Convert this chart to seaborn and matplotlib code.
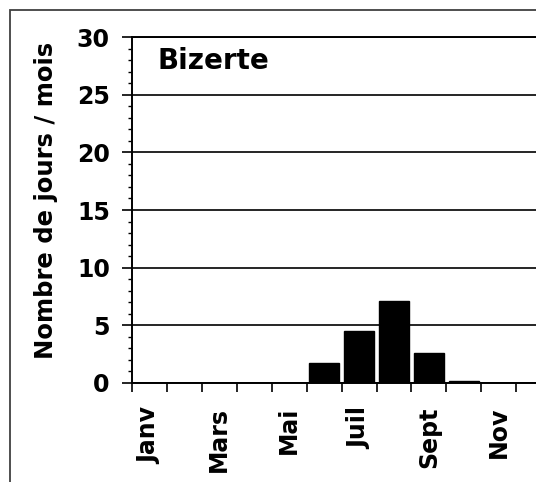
import numpy as np
import matplotlib
matplotlib.use("Agg")
import matplotlib.pyplot as plt
from matplotlib.patches import Rectangle
import seaborn as sns

# Nombre de jours par mois - Bizerte
months = ["Janv", "Fév", "Mars", "Avr", "Mai", "Juin",
          "Juil", "Août", "Sept", "Oct", "Nov", "Déc"]
days = [0, 0, 0, 0, 0, 1.7, 4.5, 7.1, 2.6, 0.2, 0, 0]
shown_labels = ["Janv", "Mars", "Mai", "Juil", "Sept", "Nov"]
station = "Bizerte"
ylabel = "Nombre de jours / mois"


def main():
    sns.set_style("white")
    plt.rcParams["font.family"] = ["DejaVu Sans"]
    plt.rcParams["font.weight"] = "bold"
    plt.rcParams["text.color"] = "black"
    plt.rcParams["axes.labelcolor"] = "black"
    plt.rcParams["xtick.color"] = "black"
    plt.rcParams["ytick.color"] = "black"

    fig = plt.figure(figsize=(5.36, 4.82), dpi=100)
    # the chart is cropped on the right: axes run past the figure edge
    ax = fig.add_axes([0.2463, 0.2054, 0.782, 0.7178])

    sns.barplot(x=months, y=days, color="black", saturation=1, width=0.86,
                edgecolor="black", linewidth=1, ax=ax)

    ax.set_ylim(0, 30)
    ax.set_xlim(-0.5, len(months) - 0.5)

    # y axis
    ax.set_yticks(np.arange(0, 31, 5))
    ax.set_yticks(np.arange(0, 31, 1), minor=True)
    ax.tick_params(axis="y", which="major", direction="out", length=7,
                   width=1.2, colors="black", pad=9, labelsize=17, left=True)
    ax.tick_params(axis="y", which="minor", direction="out", length=3,
                   width=1, colors="black", left=True)
    ax.yaxis.grid(True, which="major", color="black", linewidth=1.2)
    ax.set_axisbelow(True)

    # x axis: ticks at month boundaries, labels every other month
    ax.set_xticks(np.arange(-0.5, len(months), 1))
    ax.set_xticklabels([])
    pos = [months.index(m) for m in shown_labels]
    ax.set_xticks(pos, labels=shown_labels, minor=True)
    ax.tick_params(axis="x", which="major", direction="out", length=6.5,
                   width=1.2, colors="black", bottom=True)
    ax.tick_params(axis="x", which="minor", length=0, pad=17, labelsize=17,
                   labelrotation=90, labelcolor="black", bottom=True)
    for t in ax.get_xticklabels(minor=True):
        t.set_fontweight("bold")
    for t in ax.get_yticklabels():
        t.set_fontweight("bold")

    for side in ["left", "bottom", "top"]:
        ax.spines[side].set_visible(True)
        ax.spines[side].set_color("black")
        ax.spines[side].set_linewidth(1.4)

    ax.set_xlabel("")
    ax.set_ylabel(ylabel, fontsize=17.5, fontweight="bold", color="black")
    ax.yaxis.set_label_coords(-0.177, 0.529)

    ax.text(0.06, 0.93, station, transform=ax.transAxes, fontsize=20,
            fontweight="bold", ha="left", va="center", color="black")

    # outer chart frame
    fig.patches.append(Rectangle((10 / 536, -0.2), 1.5, 1.2 - 10 / 482,
                                 transform=fig.transFigure, fill=False,
                                 edgecolor="#404040", linewidth=1.3))

    fig.savefig("out.png", dpi=100)
    plt.close(fig)


if __name__ == "__main__":
    main()
